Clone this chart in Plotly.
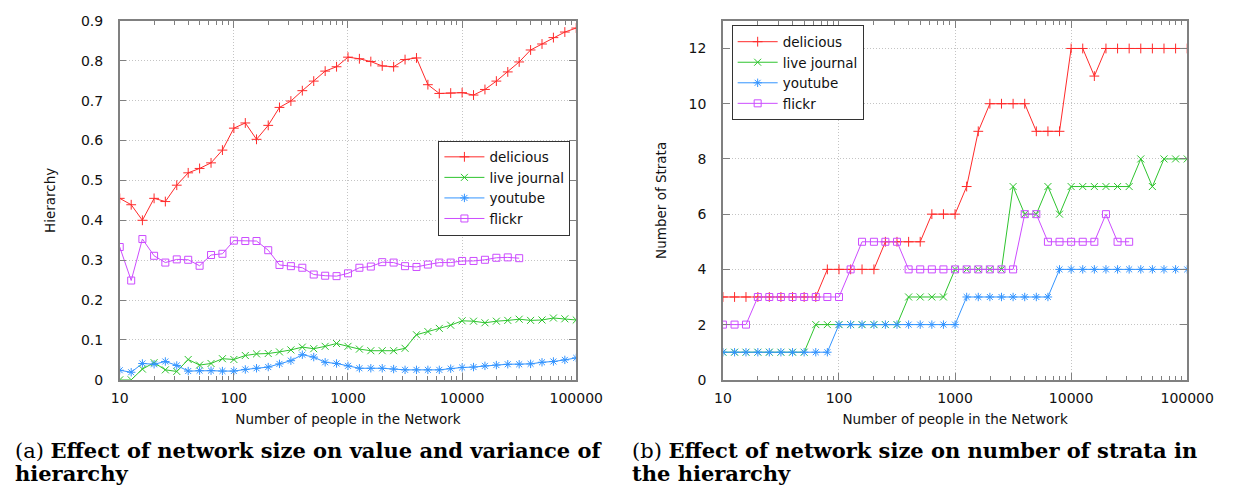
import plotly.graph_objects as go

# ---------------- data ----------------
network_size = [10, 12.6, 15.8, 20, 25.1, 31.6, 39.8, 50.1, 63.1, 79.4,
                100, 126, 158, 200, 251, 316, 398, 501, 631, 794,
                1000, 1259, 1585, 1995, 2512, 3162, 3981, 5012, 6310, 7943,
                10000, 12589, 15849, 19953, 25119, 31623, 39811, 50119, 63096, 79433,
                100000]

hier_delicious = [0.455, 0.439, 0.400, 0.455, 0.447, 0.488, 0.519, 0.530, 0.544, 0.576,
                  0.631, 0.644, 0.603, 0.638, 0.683, 0.699, 0.725, 0.749, 0.774, 0.785,
                  0.809, 0.805, 0.798, 0.787, 0.785, 0.803, 0.807, 0.740, 0.718, 0.719,
                  0.720, 0.714, 0.728, 0.749, 0.772, 0.797, 0.827, 0.842, 0.858, 0.872,
                  0.882]
hier_livejournal = [0.000, 0.000, 0.027, 0.043, 0.025, 0.021, 0.051, 0.037, 0.041, 0.053,
                    0.051, 0.061, 0.065, 0.066, 0.070, 0.075, 0.082, 0.078, 0.084, 0.091,
                    0.084, 0.077, 0.073, 0.073, 0.073, 0.079, 0.113, 0.121, 0.129, 0.137,
                    0.148, 0.147, 0.143, 0.147, 0.149, 0.152, 0.149, 0.150, 0.155, 0.153,
                    0.150]
hier_youtube = [0.024, 0.019, 0.041, 0.039, 0.046, 0.036, 0.022, 0.023, 0.023, 0.022,
                0.022, 0.026, 0.029, 0.032, 0.040, 0.048, 0.063, 0.057, 0.044, 0.041,
                0.035, 0.029, 0.029, 0.029, 0.027, 0.025, 0.025, 0.025, 0.025, 0.028,
                0.031, 0.032, 0.035, 0.037, 0.039, 0.039, 0.040, 0.044, 0.046, 0.050,
                0.055]
hier_flickr = [0.333, 0.249, 0.353, 0.311, 0.294, 0.302, 0.301, 0.286, 0.313, 0.316,
               0.349, 0.348, 0.348, 0.325, 0.288, 0.285, 0.281, 0.264, 0.261, 0.260,
               0.267, 0.281, 0.284, 0.295, 0.294, 0.285, 0.283, 0.289, 0.294, 0.294,
               0.298, 0.298, 0.301, 0.306, 0.307, 0.305]

strata_delicious = [3, 3, 3, 3, 3, 3, 3, 3, 3, 4,
                    4, 4, 4, 4, 5, 5, 5, 5, 6, 6,
                    6, 7, 9, 10, 10, 10, 10, 9, 9, 9,
                    12, 12, 11, 12, 12, 12, 12, 12, 12, 12,
                    12]
strata_livejournal = [1, 1, 1, 1, 1, 1, 1, 1, 2, 2,
                      2, 2, 2, 2, 2, 2, 3, 3, 3, 3,
                      4, 4, 4, 4, 4, 7, 6, 6, 7, 6,
                      7, 7, 7, 7, 7, 7, 8, 7, 8, 8,
                      8]
strata_youtube = [1, 1, 1, 1, 1, 1, 1, 1, 1, 1,
                  2, 2, 2, 2, 2, 2, 2, 2, 2, 2,
                  2, 3, 3, 3, 3, 3, 3, 3, 3, 4,
                  4, 4, 4, 4, 4, 4, 4, 4, 4, 4,
                  4]
strata_flickr = [2, 2, 2, 3, 3, 3, 3, 3, 3, 3,
                 3, 4, 5, 5, 5, 5, 4, 4, 4, 4,
                 4, 4, 4, 4, 4, 4, 6, 6, 5, 5,
                 5, 5, 5, 6, 5, 5]

series_names = ["delicious", "live journal", "youtube", "flickr"]
x_tick_values = [10, 100, 1000, 10000, 100000]
x_tick_labels = ["10", "100", "1000", "10000", "100000"]
hier_ticks = [0, 0.1, 0.2, 0.3, 0.4, 0.5, 0.6, 0.7, 0.8, 0.9]
hier_tick_labels = ["0", "0.1", "0.2", "0.3", "0.4", "0.5", "0.6", "0.7", "0.8", "0.9"]
strata_ticks = [0, 2, 4, 6, 8, 10, 12]

# ---------------- style ----------------
W, H = 1255, 493
colors = ["#ff2a2a", "#2ec42e", "#3394ff", "#cc4cff"]
symbols = ["cross-thin-open", "x-thin-open", "asterisk-open", "square-open"]
FONT = "DejaVu Sans"
AXIS_COL = "#808080"
GRID_COL = "#c4c4c4"

fig = go.Figure()

left_sets = [hier_delicious, hier_livejournal, hier_youtube, hier_flickr]
right_sets = [strata_delicious, strata_livejournal, strata_youtube, strata_flickr]

for name, ys, c, s in zip(series_names, left_sets, colors, symbols):
    fig.add_trace(go.Scatter(
        x=network_size[:len(ys)], y=ys, name=name, mode="lines+markers",
        xaxis="x", yaxis="y", legend="legend",
        line=dict(color=c, width=1),
        marker=dict(symbol=s, size=7, color=c, line=dict(color=c, width=1)),
    ))

for name, ys, c, s in zip(series_names, right_sets, colors, symbols):
    fig.add_trace(go.Scatter(
        x=network_size[:len(ys)], y=ys, name=name, mode="lines+markers",
        xaxis="x2", yaxis="y2", legend="legend2",
        line=dict(color=c, width=1),
        marker=dict(symbol=s, size=7, color=c, line=dict(color=c, width=1)),
    ))


def px_x(p):
    return p / W


def px_y(p):
    return 1 - p / H


common_x = dict(
    type="log", range=[1, 5], tickvals=x_tick_values, ticktext=x_tick_labels,
    showline=True, linecolor=AXIS_COL, linewidth=1.5, mirror="ticks",
    ticks="inside", ticklen=7, tickcolor=AXIS_COL, tickwidth=1,
    showgrid=True, gridcolor=GRID_COL, griddash="1px,2px", gridwidth=1,
    zeroline=False, ticklabelstandoff=5,
    tickfont=dict(family=FONT, size=14, color="#111"),
    minor=dict(dtick="D1", ticks="inside", ticklen=4, tickcolor=AXIS_COL, showgrid=False),
    title=dict(text="Number of people in the Network", standoff=9,
               font=dict(family=FONT, size=13.5, color="#111")),
)
common_y = dict(
    showline=True, linecolor=AXIS_COL, linewidth=1.5, mirror="ticks",
    ticks="inside", ticklen=7, tickcolor=AXIS_COL, tickwidth=1,
    showgrid=True, gridcolor=GRID_COL, griddash="1px,2px", gridwidth=1,
    zeroline=False, ticklabelstandoff=12,
    tickfont=dict(family=FONT, size=14, color="#111"),
)

fig.update_layout(
    width=W, height=H, margin=dict(l=0, r=0, t=0, b=0),
    paper_bgcolor="white", plot_bgcolor="white", showlegend=True,
    xaxis=dict(common_x, domain=[px_x(114), px_x(584)], anchor="y"),
    yaxis=dict(common_y, domain=[px_y(384.3), px_y(13.3)], anchor="x",
               range=[0, 0.9], tickvals=hier_ticks, ticktext=hier_tick_labels,
               title=dict(text="Hierarchy", standoff=22,
                          font=dict(family=FONT, size=13.5, color="#111"))),
    xaxis2=dict(common_x, domain=[px_x(735), px_x(1213)], anchor="y2"),
    yaxis2=dict(common_y, domain=[px_y(384.3), px_y(13.3)], anchor="x2",
                range=[0, 13], tickvals=strata_ticks,
                title=dict(text="Number of Strata", standoff=19,
                           font=dict(family=FONT, size=13.5, color="#111"))),
    legend=dict(x=px_x(578), y=px_y(137), xanchor="right", yanchor="top",
                bgcolor="white", bordercolor="#333", borderwidth=1,
                font=dict(family=FONT, size=13.5, color="#111"),
                tracegroupgap=0, itemwidth=40),
    legend2=dict(x=px_x(744), y=px_y(18), xanchor="left", yanchor="top",
                 bgcolor="white", bordercolor="#333", borderwidth=1,
                 font=dict(family=FONT, size=13.5, color="#111"),
                 tracegroupgap=0, itemwidth=40),
)

cap_font = dict(family="DejaVu Serif", size=21, color="#000")
captions = [
    (4, 457, "(a) <b>Effect of network size on value and variance of</b>"),
    (4, 481, "<b>hierarchy</b>"),
    (639, 457, "(b) <b>Effect of network size on number of strata in</b>"),
    (639, 481, "<b>the hierarchy</b>"),
]
for cx, cy, txt in captions:
    fig.add_annotation(x=px_x(cx), y=px_y(cy), xref="paper", yref="paper",
                       xanchor="left", yanchor="middle", showarrow=False,
                       text=txt, font=cap_font)

fig.write_html("out.html")
